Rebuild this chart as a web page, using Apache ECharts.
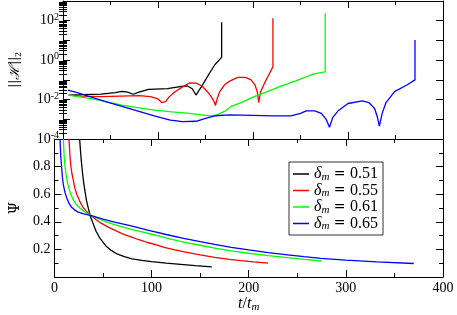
<!DOCTYPE html>
<html><head><meta charset="utf-8">
<script src="https://cdn.jsdelivr.net/npm/echarts@6/dist/echarts.min.js"></script>
<style>html,body{margin:0;padding:0;background:#fff}#c{width:457px;height:315px}</style>
</head><body><div id="c"></div>
<script>
// ---- data ----
const deltaLabels = ['0.51', '0.55', '0.61', '0.65'];
const xTicks = [0, 100, 200, 300, 400];
const psiTicks = [0.2, 0.4, 0.6, 0.8];
const hTickExponents = [-4, -2, 0, 2];
const hMinorTicks = [];
for (let e = -4; e <= 2; e++) for (let k = 2; k <= 9; k++) hMinorTicks.push(+(k * Math.pow(10, e)).toPrecision(3));

// ||H||_2 vs t/t_m (top panel)
const hBlack = [[6,0.0170],[20,0.0178],[40,0.0191],[55,0.0224],[62,0.0263],[68,0.0240],[74,0.0186],[80,0.0240],[90,0.0331],[110,0.0355],[125,0.0468],[131,0.0490],[136,0.0355],[140,0.0170],[143,0.0282],[147,0.0562],[150,0.100],[155,0.251],[160,0.603],[167,1.38],[167,83.2]];
const hRed = [[6,0.0170],[20,0.0151],[40,0.0141],[60,0.0151],[80,0.0158],[92,0.0141],[100,0.0107],[104,0.00708],[106,0.00562],[108,0.00794],[112,0.0141],[118,0.0251],[125,0.0417],[133,0.0692],[140,0.0676],[146,0.0501],[152,0.0251],[156,0.0141],[159,0.00794],[160.5,0.00501],[162,0.0100],[165,0.0251],[170,0.0562],[176,0.0891],[184,0.135],[192,0.135],[198,0.100],[202,0.0562],[204.5,0.0251],[206,0.00708],[208,0.0251],[212,0.0661],[216,0.158],[221,0.468],[221,132]];
const hGreen = [[6,0.0170],[15,0.0141],[28,0.0115],[45,0.00794],[62,0.00525],[80,0.0038],[96,0.00295],[115,0.0024],[133,0.0020],[150,0.00158],[155,0.00148],[162,0.00166],[170,0.00251],[177,0.00447],[190,0.00794],[201,0.0141],[215,0.0251],[228,0.0457],[245,0.0891],[264,0.200],[276,0.257],[276,234]];
const hBlue = [[5,0.0302],[15,0.0224],[28,0.0141],[45,0.00794],[62,0.00447],[80,0.00251],[96,0.00148],[113,0.000912],[126,0.000759],[140,0.000794],[150,0.00112],[160,0.00151],[175,0.00166],[200,0.00158],[220,0.00148],[240,0.00148],[250,0.0020],[256,0.00269],[265,0.00269],[272,0.0020],[277,0.0010],[280.5,0.000389],[284,0.00126],[290,0.00282],[300,0.00631],[315,0.00851],[322,0.00708],[328,0.00355],[331,0.00126],[333,0.000447],[336,0.0020],[340,0.00708],[349,0.0251],[362,0.0550],[370.5,0.100],[370.5,10.5]];

// Psi vs t/t_m (bottom panel)
const psiBlack = [[26,1.0],[27,0.9],[28,0.82],[29,0.75],[30,0.69],[31.5,0.62],[33,0.555],[35,0.495],[37,0.44],[40,0.385],[43,0.33],[47,0.28],[53,0.225],[58,0.195],[65,0.165],[72,0.148],[80,0.132],[90,0.12],[100,0.111],[115,0.1],[130,0.091],[145,0.082],[162,0.073]];
const psiRed = [[15,1.0],[16,0.88],[17,0.8],[18,0.75],[19.5,0.7],[21,0.645],[23,0.6],[26,0.55],[29,0.51],[32,0.483],[35,0.46],[38,0.443],[43,0.415],[48,0.39],[55,0.363],[62,0.34],[70,0.313],[79,0.29],[87,0.27],[96,0.25],[105,0.232],[113,0.215],[124,0.197],[135,0.18],[150,0.16],[165,0.142],[180,0.128],[192,0.118],[205,0.109],[220,0.1]];
const psiGreen = [[9.2,1.0],[10,0.88],[11,0.79],[12.5,0.72],[14.3,0.657],[16.5,0.605],[19.4,0.56],[22.5,0.527],[26.2,0.5],[31,0.472],[38,0.445],[45,0.423],[53,0.4],[62,0.38],[75,0.352],[88,0.33],[96,0.317],[110,0.292],[122,0.27],[133,0.252],[150,0.23],[165,0.21],[182,0.19],[200,0.172],[220,0.155],[240,0.14],[258,0.127],[275,0.116]];
const psiBlue = [[5.8,1.0],[6.5,0.88],[7.5,0.79],[8.3,0.72],[9.2,0.67],[10.8,0.615],[12.6,0.575],[15,0.535],[17.7,0.505],[21,0.485],[24.5,0.47],[30,0.457],[38,0.445],[50,0.42],[62,0.397],[80,0.368],[96,0.34],[115,0.308],[133,0.28],[150,0.256],[165,0.236],[182,0.215],[200,0.196],[220,0.177],[240,0.161],[257,0.147],[274,0.135],[300,0.122],[332,0.109],[370,0.098]];

// ---- styles ----
const colors = ['#000000', '#ff0000', '#00ff00', '#0000ff'];
const SERIF = 'Liberation Serif';
const G = { left: 51, width: 392 };
const FS = 14;

function tickCommon() {
  return {
    axisLine: { show: true, onZero: false, lineStyle: { color: '#000', width: 1 } },
    axisTick: { show: true, inside: true, length: 7, lineStyle: { color: '#000', width: 1 } },
    minorTick: { show: true, length: 4, lineStyle: { color: '#000', width: 1 } },
    splitLine: { show: false }, minorSplitLine: { show: false }
  };
}
function xAxis(gridIndex, position, labels) {
  const a = Object.assign({ type: 'value', gridIndex, position, min: 0, max: 400, interval: 100 }, tickCommon());
  a.minorTick.splitNumber = 2;
  a.axisLabel = { show: labels, fontFamily: SERIF, fontSize: FS, color: '#000', margin: 4,
    formatter: v => xTicks.includes(v) ? String(v) : '' };
  if (labels) {
    a.name = '{i|t}{n|/}{i|t}{s|m}';
    a.nameLocation = 'middle';
    a.nameGap = 15;
    a.nameTextStyle = { rich: {
      i: { fontFamily: SERIF, fontStyle: 'italic', fontSize: 16, color: '#000', lineHeight: 17 },
      n: { fontFamily: SERIF, fontSize: 16, color: '#000', lineHeight: 17 },
      s: { fontFamily: SERIF, fontStyle: 'italic', fontSize: 11, color: '#000', verticalAlign: 'bottom', lineHeight: 11 }
    } };
  }
  return a;
}
function logAxis(position, labels) {
  const a = Object.assign({ type: 'log', logBase: 10, gridIndex: 0, position, min: 1e-4, max: 1e3, interval: 1 }, tickCommon());
  a.minorTick.show = false;
  a.axisLabel = { show: labels, margin: 4,
    formatter: v => { const e = Math.round(Math.log10(v)); return hTickExponents.includes(e) ? '{b|10}{s|' + e + '}' : ''; },
    rich: {
      b: { fontFamily: SERIF, fontSize: FS, color: '#000', lineHeight: 17 },
      s: { fontFamily: SERIF, fontSize: 10, color: '#000', verticalAlign: 'top', lineHeight: 10 }
    } };
  if (labels) {
    a.name = '{n|||}{h|ℋ}{n|||}{s|2}';
    a.nameLocation = 'middle';
    a.nameRotate = 90;
    a.nameGap = 40;
    a.nameTextStyle = { rich: {
      n: { fontFamily: 'DejaVu Serif', fontSize: 12, color: '#000', lineHeight: 16 },
      h: { fontFamily: 'DejaVu Serif', fontStyle: 'italic', fontSize: 14, color: '#000', lineHeight: 16 },
      s: { fontFamily: SERIF, fontSize: 9, color: '#000', verticalAlign: 'bottom', lineHeight: 9 }
    } };
  }
  return a;
}
function logMinorAxis(position) {
  return { type: 'log', logBase: 10, gridIndex: 0, position, min: 1e-4, max: 1e3, interval: 1,
    axisLine: { show: false }, splitLine: { show: false }, axisLabel: { show: false },
    axisTick: { show: true, inside: true, length: 4, customValues: hMinorTicks, lineStyle: { color: '#000', width: 1 } } };
}
function psiAxis(position, labels) {
  const a = Object.assign({ type: 'value', gridIndex: 1, position, min: 0, max: 1, interval: 0.2 }, tickCommon());
  a.minorTick.splitNumber = 2;
  a.axisLabel = { show: labels, fontFamily: SERIF, fontSize: FS, color: '#000', margin: 4,
    formatter: v => psiTicks.some(p => Math.abs(p - v) < 1e-9) ? v.toFixed(1) : '' };
  if (labels) {
    a.name = 'Ψ';
    a.nameLocation = 'middle';
    a.nameRotate = 90;
    a.nameGap = 27;
    a.nameTextStyle = { fontFamily: 'DejaVu Serif', fontSize: 14, color: '#000' };
  }
  return a;
}

const hData = [hBlack, hRed, hGreen, hBlue];
const psiData = [psiBlack, psiRed, psiGreen, psiBlue];
const series = [];
deltaLabels.forEach((name, i) => {
  series.push({ name, type: 'line', xAxisIndex: 0, yAxisIndex: 0, data: hData[i], symbol: 'none',
    lineStyle: { color: colors[i], width: 1.3 }, itemStyle: { color: colors[i] }, clip: true, animation: false });
});
deltaLabels.forEach((name, i) => {
  series.push({ name, type: 'line', xAxisIndex: 2, yAxisIndex: 2, data: psiData[i], symbol: 'none',
    lineStyle: { color: colors[i], width: 1.3 }, itemStyle: { color: colors[i] }, clip: true, animation: false });
});

const chart = echarts.init(document.getElementById('c'), null, { renderer: 'canvas' });
chart.setOption({
  animation: false,
  backgroundColor: '#fff',
  grid: [
    { left: G.left, width: G.width, top: 1, height: 138, containLabel: false },
    { left: G.left, width: G.width, top: 139, height: 138, containLabel: false }
  ],
  xAxis: [xAxis(0, 'bottom', false), xAxis(0, 'top', false), xAxis(1, 'bottom', true), xAxis(1, 'top', false)],
  yAxis: [logAxis('left', true), logAxis('right', false), psiAxis('left', true), psiAxis('right', false), logMinorAxis('left'), logMinorAxis('right')],
  legend: {
    data: deltaLabels, orient: 'vertical', left: 289, top: 162,
    icon: 'rect', itemWidth: 16, itemHeight: 1.5, itemGap: 0,
    padding: [4, 5, 3, 4], borderColor: '#333', borderWidth: 1, backgroundColor: '#fff',
    selectedMode: false,
    formatter: n => '{d|δ}{s|m}{e| = }{t|' + n + '}',
    textStyle: { rich: {
      d: { fontFamily: SERIF, fontStyle: 'italic', fontSize: 16, color: '#000', lineHeight: 17 },
      s: { fontFamily: SERIF, fontStyle: 'italic', fontSize: 11, color: '#000', verticalAlign: 'bottom', lineHeight: 11 },
      e: { fontFamily: 'DejaVu Serif', fontSize: 14, color: '#000', lineHeight: 17 },
      t: { fontFamily: SERIF, fontSize: 16, color: '#000', lineHeight: 17 }
    } }
  },
  series
});
</script></body></html>
